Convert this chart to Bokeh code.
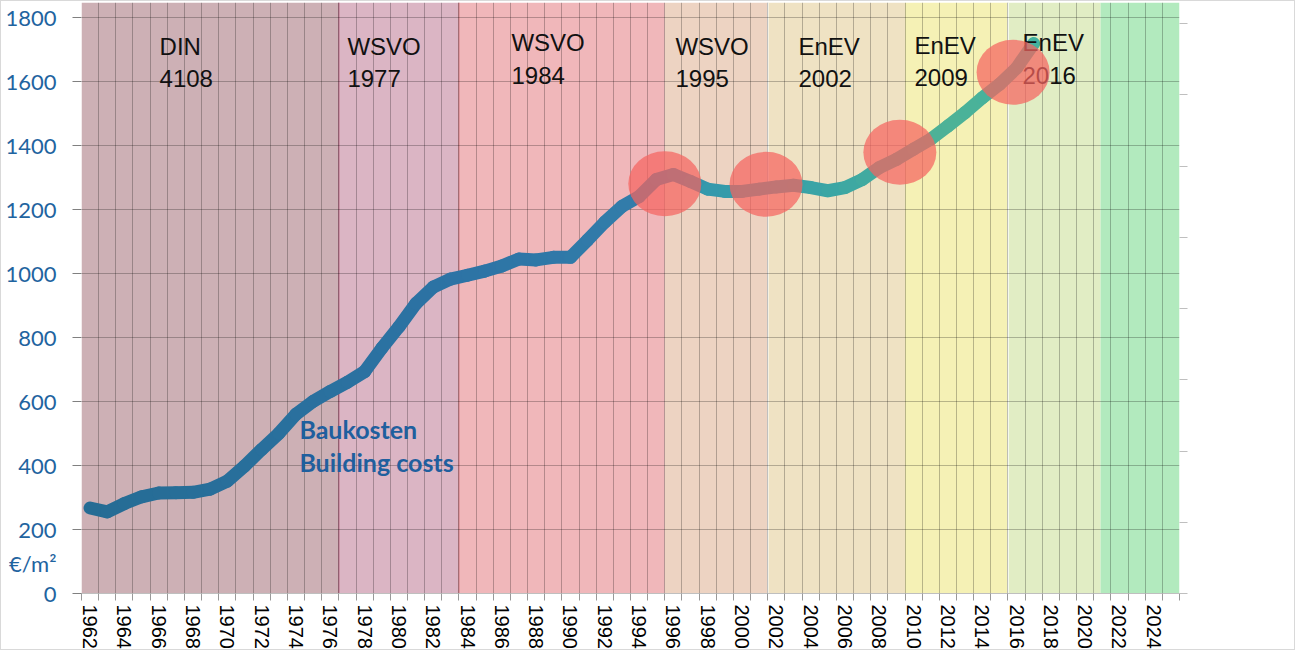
import numpy as np
from bokeh.plotting import figure
from bokeh.models import Range1d, LinearAxis, FixedTicker
from bokeh.core.properties import value
from bokeh.embed import file_html
from bokeh.resources import INLINE

# ---------------- data ----------------
years = list(range(1962, 2018))
costs = [267, 255, 281, 302, 314, 315, 316, 326, 351, 398,
         450, 500, 560, 600, 631, 660, 693, 766, 833, 906,
         957, 982, 994, 1007, 1023, 1045, 1042, 1050, 1050, 1104,
         1160, 1209, 1240, 1293, 1309, 1287, 1263, 1256, 1256, 1263,
         1270, 1275, 1268, 1258, 1268, 1293, 1330, 1356, 1388, 1419,
         1460, 1502, 1548, 1590, 1641, 1718]

band_names = ["DIN\n4108", "WSVO\n1977", "WSVO\n1984", "WSVO\n1995",
              "EnEV\n2002", "EnEV\n2009", "EnEV\n2016", ""]
band_start = [1961.5, 1976.5, 1983.5, 1995.5, 2001.5, 2009.5, 2015.5, 2020.9]
band_end = [1976.5, 1983.5, 1995.5, 2001.5, 2009.5, 2015.5, 2020.9, 2025.5]
band_colors = ["#CDB0B5", "#DBB5C4", "#F0B7BA", "#EDD3C2",
               "#EFE2C3", "#F5F1B5", "#E1EDC4", "#B2EABE"]
band_edge_colors = [None, "#C07890", "#D98890", None, "white", None, "white", None]

label_x = [1966.05, 1977.0, 1986.56, 1996.12, 2003.29, 2010.05, 2016.35]
label_y = [1752, 1752, 1762, 1752, 1752, 1755, 1762]

circle_x = [1995.5, 2001.4, 2009.2, 2015.8]
circle_y = [1280, 1278, 1378, 1628]

y_ticks = list(range(0, 1801, 200))
unit_label = "€/m²"
unit_pos = 93
x_label_years = list(range(1962, 2025, 2))
x_bounds = [y - 0.5 for y in range(1962, 2027)]

series_label = "Baukosten\nBuilding costs"

# ---------------- figure ----------------
W, H = 1295, 650
p = figure(width=W, height=H, output_backend="svg", toolbar_location=None,
           x_range=Range1d(1961.5, 2025.5), y_range=Range1d(0, 1846),
           min_border_left=80, min_border_right=117, min_border_top=1,
           min_border_bottom=56, outline_line_color=None,
           background_fill_color="white", border_fill_color="white")
p.styles = {"border": "1px solid #D9D9D9"}

# bands
p.quad(left=band_start, right=band_end, bottom=0, top=1846,
       fill_color=band_colors, line_color=None, level="image")
edge_x = [x for x, c in zip(band_start, band_edge_colors) if c]
edge_c = [c for c in band_edge_colors if c]
p.segment(x0=edge_x, x1=edge_x, y0=0, y1=1846, line_color=edge_c,
          line_width=1.5, level="image")

# x axis
xa = p.xaxis[0]
xa.ticker = FixedTicker(ticks=x_label_years, minor_ticks=x_bounds)
xa.major_tick_line_color = None
xa.major_tick_in = 0
xa.major_tick_out = 7
xa.minor_tick_line_color = "#999999"
xa.minor_tick_in = 0
xa.minor_tick_out = 7
xa.axis_line_color = "#BFBFBF"
xa.major_label_orientation = "vertical"
xa.major_label_text_font = "Liberation Sans"
xa.major_label_text_font_size = "20px"
xa.major_label_text_color = "black"
xa.major_label_standoff = 4

# y axis: labelled values (+ unit label) as major ticks, visible tick marks as minor ticks
ya = p.yaxis[0]
ya.ticker = FixedTicker(ticks=sorted(y_ticks + [unit_pos]), minor_ticks=y_ticks)
ya.major_label_overrides = {unit_pos: unit_label}
ya.major_tick_in = 0
ya.major_tick_out = 9
ya.major_tick_line_color = None
ya.minor_tick_in = 0
ya.minor_tick_out = 9
ya.minor_tick_line_color = "#808080"
ya.axis_line_color = None
ya.major_label_text_font = "Lato"
ya.major_label_text_font_size = "22px"
ya.major_label_text_color = "#1F64A0"
ya.major_label_standoff = 16

# right axis (ticks only)
p.extra_y_ranges = {"r": Range1d(0, 594 / 71.6)}
ra = LinearAxis(y_range_name="r", ticker=FixedTicker(ticks=list(range(0, 9))),
                major_tick_in=0, major_tick_out=8, major_tick_line_color="#BFBFBF",
                minor_tick_line_color=None, axis_line_color=None,
                major_label_overrides={i: "" for i in range(0, 9)})
p.add_layout(ra, "right")

# grids
p.xgrid.grid_line_color = None
p.xgrid.minor_grid_line_color = "black"
p.xgrid.minor_grid_line_alpha = 0.25
p.ygrid.ticker = FixedTicker(ticks=y_ticks)
p.ygrid.grid_line_color = "black"
p.ygrid.grid_line_alpha = 0.25

# gradient line
stops_x = [1962, 1984, 1994, 1998, 2005, 2012, 2017]
stops_c = np.array([(37, 108, 148), (45, 115, 165), (50, 125, 170), (52, 152, 172),
                    (58, 165, 165), (78, 178, 150), (65, 178, 160)], dtype=float)
xs, ys, cols = [], [], []
for i in range(len(years) - 1):
    xm = (years[i] + years[i + 1]) / 2
    c = [int(round(np.interp(xm, stops_x, stops_c[:, k]))) for k in range(3)]
    xs.append([years[i], years[i + 1]])
    ys.append([costs[i], costs[i + 1]])
    cols.append("#%02x%02x%02x" % tuple(c))
p.multi_line(xs=xs, ys=ys, line_color=cols, line_width=13,
             line_cap="round", line_join="round")

# regulation labels
p.text(x=label_x, y=label_y, text=band_names[:7], text_font=value("Liberation Sans"),
       text_font_size="24px", text_color="#111111", text_align="left",
       text_baseline="top", text_line_height=1.2)

# series label
p.text(x=[1974.2], y=[560], text=[series_label], text_font=value("Lato"),
       text_font_style="bold", text_font_size="25px", text_color="#1F5F9E",
       text_align="left", text_baseline="top", text_line_height=1.1)

# circles
p.ellipse(x=circle_x, y=circle_y, width=73, height=65, width_units="screen",
          height_units="screen", fill_color="#F5645F", fill_alpha=0.72, line_color=None)

open("out.html", "w").write(file_html(p, INLINE))
